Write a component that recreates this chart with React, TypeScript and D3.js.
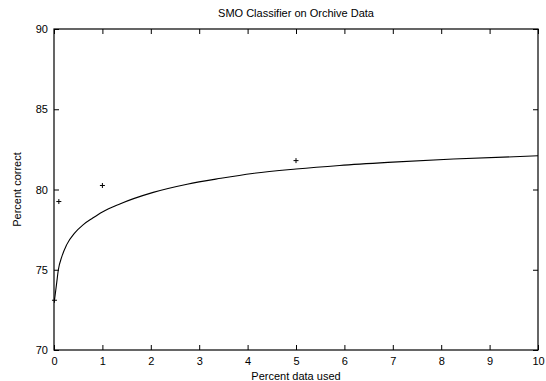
import * as d3 from "d3";
import React, { useEffect, useRef } from "react";

// measured points (percent data used, percent correct)
const pointX = [0.01, 0.1, 1, 5];
const pointY = [73.1, 79.25, 80.25, 81.8];

// fitted curve
const fitX = [0.01, 0.056, 0.09, 0.16, 0.26, 0.43, 0.6, 0.8, 1, 1.36, 2.05, 2.75, 3.45, 4.1, 5, 5.9, 6.9, 8.25, 10];
const fitY = [73.1, 74.2, 75.0, 75.8, 76.55, 77.3, 77.8, 78.22, 78.6, 79.1, 79.82, 80.33, 80.7, 81.0, 81.28, 81.5, 81.69, 81.9, 82.1];

const xTicks = [0, 1, 2, 3, 4, 5, 6, 7, 8, 9, 10];
const yTicks = [70, 75, 80, 85, 90];

const title = "SMO Classifier on Orchive Data";
const xLabel = "Percent data used";
const yLabel = "Percent correct";

export default function App() {
  const svgRef = useRef<SVGSVGElement>(null);

  const width = 546;
  const height = 381;
  const marginLeft = 54;
  const marginRight = 8;
  const marginTop = 29;
  const marginBottom = 31;
  const font = "'Liberation Sans', Arial, Helvetica, sans-serif";

  useEffect(() => {
    if (!svgRef.current) return;
    const svg = d3.select(svgRef.current);
    svg.selectAll("*").remove();

    const x = d3.scaleLinear([0, 10], [marginLeft, width - marginRight]);
    const y = d3.scaleLinear([70, 90], [height - marginBottom, marginTop]);

    const tick = 5;

    // bottom axis
    svg
      .append("g")
      .attr("transform", `translate(0,${height - marginBottom})`)
      .call(
        d3.axisBottom(x).tickValues(xTicks).tickSizeInner(-tick).tickSizeOuter(0).tickPadding(7)
      )
      .call((g) => g.select(".domain").remove());

    // top mirror ticks
    svg
      .append("g")
      .attr("transform", `translate(0,${marginTop})`)
      .call(d3.axisTop(x).tickValues(xTicks).tickSizeInner(-tick).tickSizeOuter(0).tickFormat(() => ""))
      .call((g) => g.select(".domain").remove());

    // left axis
    svg
      .append("g")
      .attr("transform", `translate(${marginLeft},0)`)
      .call(d3.axisLeft(y).tickValues(yTicks).tickSizeInner(-tick).tickSizeOuter(0).tickPadding(6))
      .call((g) => g.select(".domain").remove());

    // right mirror ticks
    svg
      .append("g")
      .attr("transform", `translate(${width - marginRight},0)`)
      .call(d3.axisRight(y).tickValues(yTicks).tickSizeInner(-tick).tickSizeOuter(0).tickFormat(() => ""))
      .call((g) => g.select(".domain").remove());

    svg
      .selectAll(".tick text")
      .attr("font-family", font)
      .attr("font-size", 11)
      .attr("fill", "#000");
    svg.selectAll(".tick line").attr("stroke", "#000");

    // border
    svg
      .append("rect")
      .attr("x", marginLeft)
      .attr("y", marginTop)
      .attr("width", width - marginLeft - marginRight)
      .attr("height", height - marginTop - marginBottom)
      .attr("fill", "none")
      .attr("stroke", "#000")
      .attr("stroke-width", 1.2);

    // fitted curve
    const line = d3
      .line<number>()
      .x((d) => x(d))
      .y((_, i) => y(fitY[i]))
      .curve(d3.curveMonotoneX);
    svg
      .append("path")
      .attr("d", line(fitX))
      .attr("fill", "none")
      .attr("stroke", "#000")
      .attr("stroke-width", 1.1);

    // points as '+'
    const s = 2.5;
    pointX.forEach((px, i) => {
      const cx = x(px);
      const cy = y(pointY[i]);
      svg
        .append("path")
        .attr("d", `M${cx - s},${cy}H${cx + s}M${cx},${cy - s}V${cy + s}`)
        .attr("stroke", "#000")
        .attr("stroke-width", 1);
    });

    // title and labels
    svg
      .append("text")
      .attr("x", (marginLeft + width - marginRight) / 2)
      .attr("y", 17)
      .attr("text-anchor", "middle")
      .attr("font-family", font)
      .attr("font-size", 11)
      .text(title);

    svg
      .append("text")
      .attr("x", (marginLeft + width - marginRight) / 2)
      .attr("y", 380)
      .attr("text-anchor", "middle")
      .attr("font-family", font)
      .attr("font-size", 11)
      .text(xLabel);

    svg
      .append("text")
      .attr("transform", `translate(21,${(marginTop + height - marginBottom) / 2}) rotate(-90)`)
      .attr("text-anchor", "middle")
      .attr("font-family", font)
      .attr("font-size", 11)
      .text(yLabel);
  }, []);

  return (
    <svg
      ref={svgRef}
      width={width}
      height={height}
      style={{ position: "absolute", left: 0, top: 0, background: "#fff" }}
    />
  );
}
